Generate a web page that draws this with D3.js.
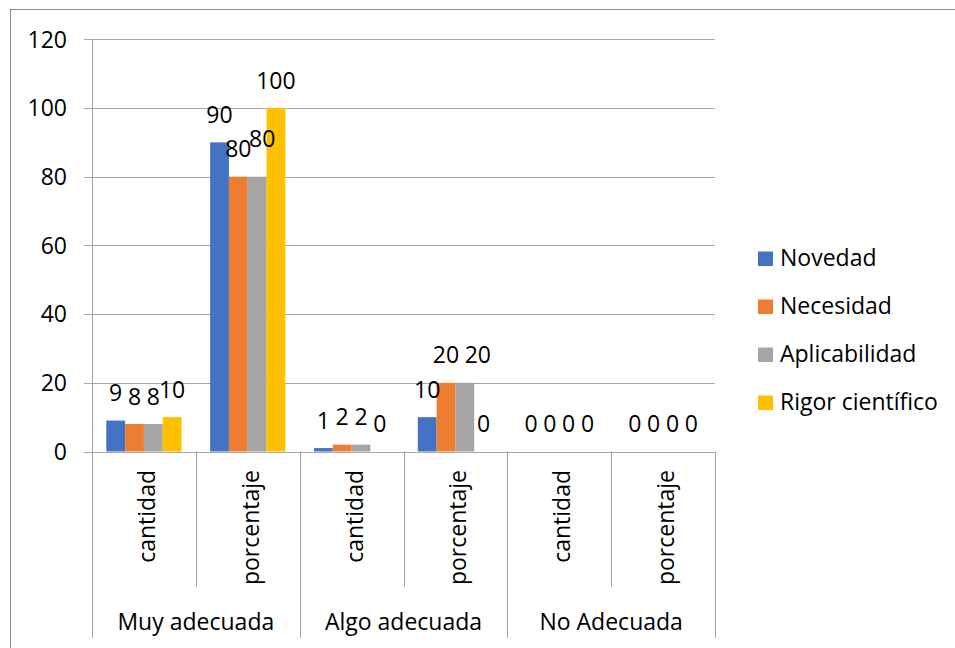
<!DOCTYPE html>
<html>
<head>
<meta charset="utf-8">
<script src="https://cdn.jsdelivr.net/npm/d3@7"></script>
<style>
  body { margin: 0; background: #fff; }
  text { font-family: "Open Sans", "Noto Sans", sans-serif; fill: #000; }
</style>
</head>
<body>
<svg id="chart" width="955" height="648"></svg>
<script>
const groups = ["Muy adecuada", "Algo adecuada", "No Adecuada"];
const subcats = ["cantidad", "porcentaje"];
const seriesNames = ["Novedad", "Necesidad", "Aplicabilidad", "Rigor científico"];
const novedad = [9, 90, 1, 10, 0, 0];
const necesidad = [8, 80, 2, 20, 0, 0];
const aplicabilidad = [8, 80, 2, 20, 0, 0];
const rigor = [10, 100, 0, 0, 0, 0];
const yTicks = [0, 20, 40, 60, 80, 100, 120];

const seriesValues = [novedad, necesidad, aplicabilidad, rigor];
const colors = ["#4472C4", "#ED7D31", "#A5A5A5", "#FFC000"];
const fontSize = 23;

// flat list of the 6 bottom categories
const cats = [];
groups.forEach((g, gi) => subcats.forEach((s, si) => cats.push({ key: gi + "-" + si, group: g, sub: s })));

const svg = d3.select("#chart");
const gridColor = "#a6a6a6";

// outer frame (only top/left edges are inside the picture)
svg.append("rect")
    .attr("x", 10.5).attr("y", 9.5)
    .attr("width", 1000).attr("height", 700)
    .attr("fill", "none")
    .attr("stroke", "#8c8c8c");

const left = 92, right = 715;
const x0 = d3.scaleBand().domain(cats.map(d => d.key)).range([left, right]);
const x1 = d3.scaleBand().domain(seriesNames).range([0, x0.bandwidth()]).paddingOuter(0.76);
const y = d3.scaleLinear().domain([0, 120]).range([451.5, 39.3]);

// gridlines + y tick labels
svg.append("g")
    .selectAll("line")
    .data(yTicks)
    .enter().append("line")
      .attr("x1", 84).attr("x2", right)
      .attr("y1", d => Math.round(y(d)) + 0.5)
      .attr("y2", d => Math.round(y(d)) + 0.5)
      .attr("stroke", gridColor);

svg.append("g")
    .selectAll("text")
    .data(yTicks)
    .enter().append("text")
      .attr("x", 67)
      .attr("y", d => y(d))
      .attr("dy", "0.36em")
      .attr("text-anchor", "end")
      .attr("font-size", fontSize)
      .text(d => d);

// y axis line
svg.append("line")
    .attr("x1", left + 0.5).attr("x2", left + 0.5)
    .attr("y1", y(120)).attr("y2", 638)
    .attr("stroke", gridColor);

// category separators below the axis
const bounds = d3.range(cats.length + 1).map(i => left + i * x0.step());
svg.append("g")
    .selectAll("line")
    .data(bounds.slice(1))
    .enter().append("line")
      .attr("x1", d => Math.round(d) + 0.5)
      .attr("x2", d => Math.round(d) + 0.5)
      .attr("y1", y(0))
      .attr("y2", (d, i) => (i + 1) % 2 === 0 ? 638 : 587)
      .attr("stroke", gridColor);

// bars
const barG = svg.append("g")
    .selectAll("g")
    .data(cats)
    .enter().append("g")
      .attr("transform", d => `translate(${x0(d.key)},0)`);

barG.selectAll("rect")
    .data((d, ci) => seriesNames.map((s, si) => ({ s, si, v: seriesValues[si][ci] })))
    .enter().append("rect")
      .attr("x", d => x1(d.s))
      .attr("width", x1.bandwidth())
      .attr("y", d => y(d.v))
      .attr("height", d => y(0) - y(d.v))
      .attr("fill", d => colors[d.si]);

// data labels, with Excel-like nudges where labels collide
const labelShift = { "1-2": [5, -10], "3-2": [13, 0] };
barG.selectAll("text")
    .data((d, ci) => seriesNames.map((s, si) => ({ s, si, ci, v: seriesValues[si][ci] })))
    .enter().append("text")
      .attr("x", d => x1(d.s) + x1.bandwidth() / 2 + (labelShift[d.ci + "-" + d.si] || [0, 0])[0])
      .attr("y", d => y(d.v) - 19.5 + (labelShift[d.ci + "-" + d.si] || [0, 0])[1])
      .attr("text-anchor", "middle")
      .attr("font-size", fontSize)
      .text(d => d.v);

// rotated sub-category labels
svg.append("g")
    .selectAll("text")
    .data(cats)
    .enter().append("text")
      .attr("transform", d => `translate(${x0(d.key) + x0.bandwidth() / 2},470) rotate(-90)`)
      .attr("y", 11)
      .attr("text-anchor", "end")
      .attr("font-size", fontSize)
      .text(d => d.sub);

// group labels
svg.append("g")
    .selectAll("text")
    .data(groups)
    .enter().append("text")
      .attr("x", (d, i) => left + (i * 2 + 1) * x0.step())
      .attr("y", 630)
      .attr("text-anchor", "middle")
      .attr("font-size", fontSize)
      .text(d => d);

// legend
const legend = svg.append("g")
    .selectAll("g")
    .data(seriesNames)
    .enter().append("g")
      .attr("transform", (d, i) => `translate(758,${266 + i * 48})`);

legend.append("rect")
    .attr("x", 0).attr("y", -14.5)
    .attr("width", 15).attr("height", 14.5)
    .attr("fill", (d, i) => colors[i]);

legend.append("text")
    .attr("x", 22)
    .attr("y", 0)
    .attr("font-size", fontSize)
    .text(d => d);
</script>
</body>
</html>
